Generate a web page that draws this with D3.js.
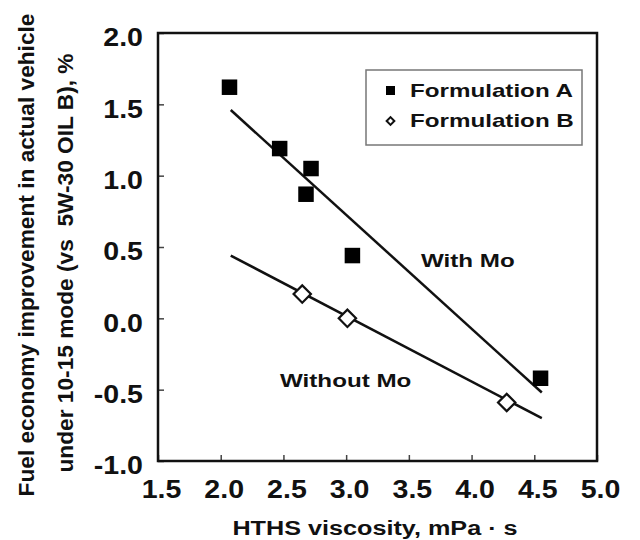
<!DOCTYPE html>
<html>
<head>
<meta charset="utf-8">
<script src="https://cdn.jsdelivr.net/npm/d3@7"></script>
<style>
  html, body { margin: 0; padding: 0; background: #fff; }
  svg { display: block; font-family: "Liberation Sans", Arial, sans-serif; }
  text { white-space: pre; }
</style>
</head>
<body>
<svg id="chart" width="640" height="540"></svg>
<script>
// HTHS viscosity (mPa·s) vs fuel economy improvement (%)
const hthsA = [2.07, 2.47, 2.72, 2.68, 3.05, 4.55];
const feiA  = [1.62, 1.19, 1.05, 0.87, 0.44, -0.42];
const hthsB = [2.65, 3.01, 4.28];
const feiB  = [0.17, 0.00, -0.59];

// trend lines (end points)
const fitWithMoX = [2.08, 4.56];
const fitWithMoY = [1.46, -0.52];
const fitWithoutMoX = [2.08, 4.56];
const fitWithoutMoY = [0.44, -0.70];

const xTicks = [1.5, 2.0, 2.5, 3.0, 3.5, 4.0, 4.5, 5.0];
const yTicks = [-1.0, -0.5, 0.0, 0.5, 1.0, 1.5, 2.0];
const legendLabels = ["Formulation A", "Formulation B"];

const svg = d3.select("#chart");
const plotLeft = 158, plotRight = 597, plotTop = 33, plotBottom = 461;

const x = d3.scaleLinear().domain([1.5, 5.0]).range([plotLeft, plotRight]);
const y = d3.scaleLinear().domain([-1.0, 2.0]).range([plotBottom, plotTop]);

// axes with inward ticks
const xAxis = svg.append("g")
  .attr("transform", `translate(0,${plotBottom})`)
  .call(d3.axisBottom(x).tickValues(xTicks).tickSizeInner(-6).tickSizeOuter(0)
        .tickPadding(19).tickFormat(d => d.toFixed(1)));
const yAxis = svg.append("g")
  .attr("transform", `translate(${plotLeft},0)`)
  .call(d3.axisLeft(y).tickValues(yTicks).tickSizeInner(-6).tickSizeOuter(0)
        .tickPadding(15).tickFormat(d => d.toFixed(1)));

[xAxis, yAxis].forEach(g => {
  g.select(".domain").remove();
  g.selectAll(".tick line").attr("stroke", "#444").attr("stroke-width", 1.5);
  g.selectAll(".tick text")
    .attr("font-family", "Liberation Sans, Arial, sans-serif")
    .attr("font-size", 25.5).attr("font-weight", "bold").attr("fill", "#111");
});
// slightly wide numerals
xAxis.selectAll(".tick text")
  .attr("transform", "translate(3,0) scale(1.12,1)");
yAxis.selectAll(".tick text")
  .attr("x", 0).attr("dy", "0.5em")
  .attr("transform", "translate(-15,0) scale(1.12,1)");

// plot frame
svg.append("rect")
  .attr("x", plotLeft).attr("y", plotTop)
  .attr("width", plotRight - plotLeft).attr("height", plotBottom - plotTop)
  .attr("fill", "none").attr("stroke", "#111").attr("stroke-width", 2.5);

// trend lines
const line = d3.line().x(d => x(d[0])).y(d => y(d[1]));
svg.append("path")
  .datum(d3.zip(fitWithMoX, fitWithMoY))
  .attr("d", line).attr("fill", "none").attr("stroke", "#111").attr("stroke-width", 2.5);
svg.append("path")
  .datum(d3.zip(fitWithoutMoX, fitWithoutMoY))
  .attr("d", line).attr("fill", "none").attr("stroke", "#111").attr("stroke-width", 2.5);

// Formulation A: filled squares
const sq = 15.5;
svg.append("g").selectAll("rect")
  .data(d3.zip(hthsA, feiA))
  .join("rect")
  .attr("x", d => x(d[0]) - sq / 2).attr("y", d => y(d[1]) - sq / 2)
  .attr("width", sq).attr("height", sq).attr("fill", "#000");

// Formulation B: open diamonds
svg.append("g").selectAll("path")
  .data(d3.zip(hthsB, feiB))
  .join("path")
  .attr("transform", d => `translate(${x(d[0])},${y(d[1])}) rotate(45)`)
  .attr("d", d3.symbol().type(d3.symbolSquare).size(150))
  .attr("fill", "#fff").attr("stroke", "#111").attr("stroke-width", 2.2);

// legend
const lg = svg.append("g");
lg.append("rect").attr("x", 366).attr("y", 70).attr("width", 216).attr("height", 75)
  .attr("fill", "#fff").attr("stroke", "#777").attr("stroke-width", 1.5);
lg.append("rect").attr("x", 386).attr("y", 86).attr("width", 9).attr("height", 9).attr("fill", "#000");
lg.append("path")
  .attr("transform", "translate(390.5,121) rotate(45)")
  .attr("d", d3.symbol().type(d3.symbolSquare).size(30))
  .attr("fill", "#fff").attr("stroke", "#111").attr("stroke-width", 2);
legendLabels.forEach((t, i) => {
  lg.append("text")
    .attr("transform", `translate(410,${97 + i * 30}) scale(1.3,1)`)
    .attr("font-size", 18.6).attr("font-weight", "bold").attr("fill", "#111")
    .text(t);
});

// annotations
svg.append("text").attr("transform", "translate(421,267) scale(1.3,1)")
  .attr("font-size", 18.6).attr("font-weight", "bold").attr("fill", "#111").text("With Mo");
svg.append("text").attr("transform", "translate(280,387) scale(1.3,1)")
  .attr("font-size", 18.6).attr("font-weight", "bold").attr("fill", "#111").text("Without Mo");

// axis titles
svg.append("text").attr("transform", "translate(375,535) scale(1.2,1)")
  .attr("text-anchor", "middle").attr("font-size", 21).attr("font-weight", "bold").attr("fill", "#111")
  .text("HTHS viscosity, mPa · s");
svg.append("text").attr("transform", "translate(34,255) rotate(-90)")
  .attr("text-anchor", "middle").attr("font-size", 22.7).attr("font-weight", "bold").attr("fill", "#111")
  .text("Fuel economy improvement in actual vehicle");
svg.append("text").attr("transform", "translate(73,263) rotate(-90)")
  .attr("text-anchor", "middle").attr("font-size", 22.7).attr("font-weight", "bold").attr("fill", "#111")
  .text("under 10-15 mode (vs  5W-30 OIL B), %");
</script>
</body>
</html>
